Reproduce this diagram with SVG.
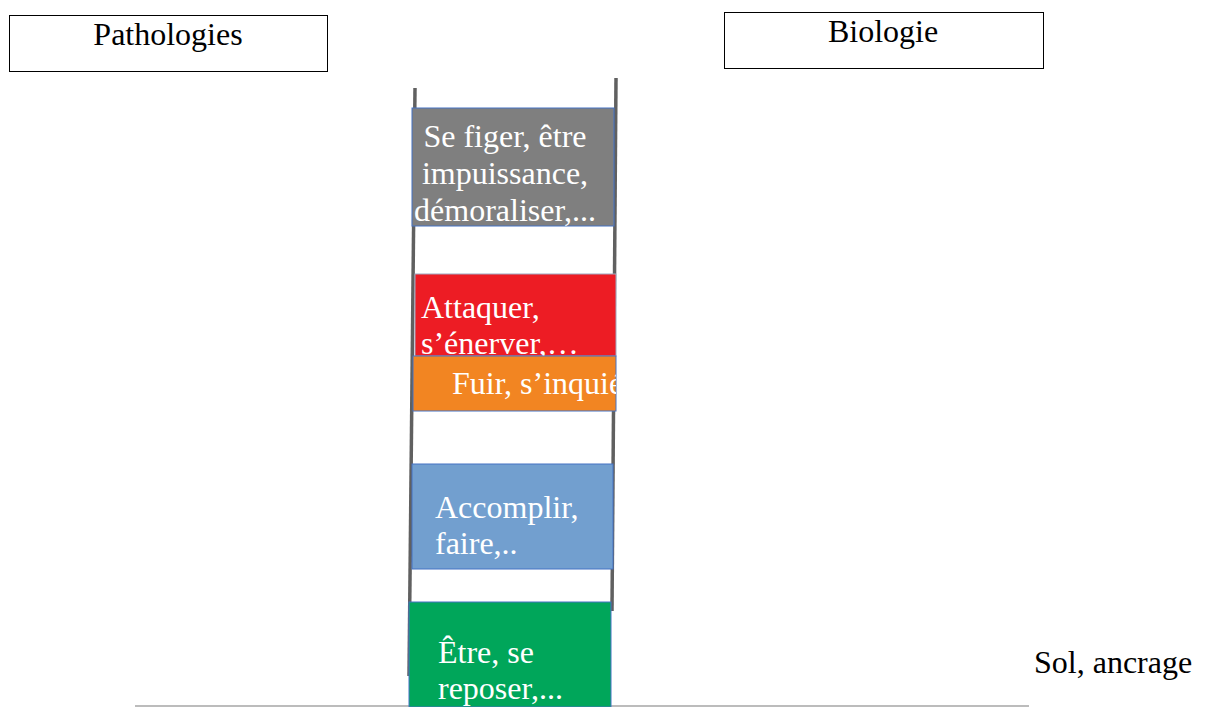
<svg xmlns="http://www.w3.org/2000/svg" width="1206" height="707" viewBox="0 0 1206 707">
<style>
text{font-family:"Liberation Serif","Times New Roman",serif;font-size:32px}
.lbl{fill:#000}
.w{fill:#fff}
.hdr{fill:#fff;stroke:#000;stroke-width:1}
.rail{stroke:#606060;stroke-width:3.5;fill:none}
.rung{stroke:#4472c4;stroke-width:1}
</style>
<defs>
<clipPath id="cOrange"><rect x="413" y="356" width="203" height="55"/></clipPath>
<clipPath id="cRed"><rect x="415" y="274" width="201" height="82"/></clipPath>
</defs>
<rect width="1206" height="707" fill="#fff"/>
<g id="pathologies">
<rect class="hdr" x="9.5" y="15.5" width="318" height="56"/>
<text class="lbl" x="168" y="45" text-anchor="middle">Pathologies</text>
</g>
<g id="biologie">
<rect class="hdr" x="724.5" y="12.5" width="319" height="56"/>
<text class="lbl" x="883" y="42" text-anchor="middle">Biologie</text>
</g>
<g id="ground">
<line x1="135" y1="706" x2="1029" y2="706" stroke="#a6a6a6" stroke-width="1.5"/>
</g>
<g id="sol">
<text class="lbl" x="1034" y="673">Sol, ancrage</text>
</g>
<g id="connectors">
<line class="rail" x1="415" y1="88" x2="409" y2="676"/>
<line class="rail" x1="616" y1="78" x2="612" y2="611"/>
</g>
<g id="figer">
<rect class="rung" x="412" y="108" width="202" height="118" fill="#7f7f7f"/>
<text class="w" x="505" y="147" text-anchor="middle">Se figer, être</text>
<text class="w" x="505" y="184" text-anchor="middle">impuissance,</text>
<text class="w" x="505" y="221" text-anchor="middle">démoraliser,...</text>
</g>
<g id="attaquer">
<rect x="415" y="274" width="201" height="82" fill="#ed1c24" stroke="#a0a8c0" stroke-width="1"/>
<g clip-path="url(#cRed)">
<text class="w" x="421" y="318">Attaquer,</text>
<text class="w" x="421" y="354">s’énerver,…</text>
</g>
</g>
<g id="fuir">
<rect class="rung" x="413" y="356" width="203" height="55" fill="#f28522"/>
<g clip-path="url(#cOrange)">
<text class="w" x="452" y="394">Fuir, s’inquiéter</text>
</g>
</g>
<g id="accomplir">
<rect class="rung" x="412" y="464" width="201" height="105" fill="#729fcf"/>
<text class="w" x="435" y="518">Accomplir,</text>
<text class="w" x="435" y="554">faire,..</text>
</g>
<g id="etre">
<rect class="rung" x="409" y="602" width="202" height="105" fill="#00a65a"/>
<text class="w" x="438" y="663">Être, se</text>
<text class="w" x="438" y="699">reposer,...</text>
</g>
</svg>
